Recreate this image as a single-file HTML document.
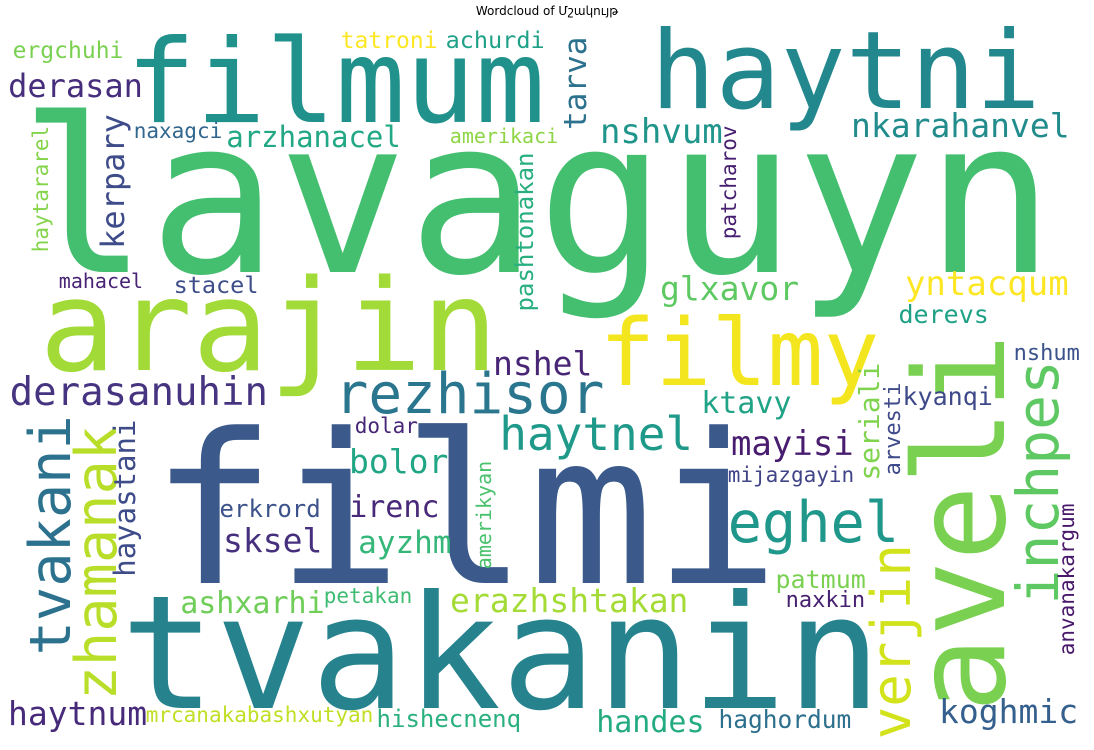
<!DOCTYPE html>
<html><head><meta charset="utf-8"><style>
html,body{margin:0;padding:0;background:#fff;width:1094px;height:750px;overflow:hidden}
svg{display:block}
.w{font-family:"DejaVu Sans Mono","Liberation Mono",monospace}
</style></head><body>
<svg id="cloud" width="1094" height="750" xmlns="http://www.w3.org/2000/svg">
<rect x="0" y="0" width="1094" height="750" fill="#fff"/>
<text x="547" y="15" text-anchor="middle" font-family="'DejaVu Sans','Liberation Sans',sans-serif" font-size="12" fill="#000">Wordcloud of Մշակույթ</text>
<g id="words"></g>
</svg>
<script>
// words, anchor positions, font sizes, colors, rotation
const words = ["lavaguyn","filmum","haytni","arajin","filmi","tvakanin","aveli","filmy","rezhisor","derasanuhin","eghel","haytnel","inchpes","verjin","zhamanak","tvakani","hayastani","kerpary","haytararel","pashtonakan","ergchuhi","derasan","tatroni","achurdi","naxagci","arzhanacel","amerikaci","mahacel","stacel","nshvum","nkarahanvel","tarva","patcharov","glxavor","yntacqum","derevs","nshum","nshel","ktavy","mayisi","kyanqi","mijazgayin","seriali","arvesti","patmum","naxkin","koghmic","anvanakargum","handes","haghordum","erazhshtakan","petakan","hishecnenq","mrcanakabashxutyan","haytnum","ashxarhi","erkrord","sksel","irenc","ayzhm","bolor","dolar","amerikyan"];
const sizes = [215,116,108,127,209,158,126,93,56,39,57,46,58,54,57,57,29,32,21,24,23,32,23,23.5,21,29,20,20,23.5,34,33,31,21,33,34,25,22,33,30,34,25,21,28,22,25,22,33,21,30,24.5,33,21,24,21,33,30,24,33,30,31,33,21,20];
const posX = [32,133,657,47,163,130,1004,605,338,12,731,502,1058,910,116,70,135,124,48,533,14,10,342,447,135,228,451,60,175,602,853,586,736,662,907,900,1015,495,703,733,904,729,879,900,777,787,941,1074,598,720,452,325,378,147,10,182,221,225,351,360,351,356,491];
const posY = [272,122,108,370,583,708,705,385,413,405,542,450,601,736,697,652,575,247,251,310,58,97,48,48,138,147,143,288,293,143,137,128,238,300,295,323,360,375,413,455,405,482,479,474,588,607,723,654,732,728,612,603,727,722,725,613,517,552,517,553,473,433,568];
const rotated = [0,0,0,0,0,0,1,0,0,0,0,0,1,1,1,1,1,1,1,1,0,0,0,0,0,0,0,0,0,0,0,1,1,0,0,0,0,0,0,0,0,0,1,1,0,0,0,1,0,0,0,0,0,0,0,0,0,0,0,0,0,0,1];
const colors = ["#44bf70","#21918c","#23888e","#a2da37","#3b5a8b","#26838e","#7ad151","#f4e61e","#2a768e","#463480","#1f978b","#1f9a8a","#5ec962","#d2e21b","#b8de29","#2c728e","#3e4c8a","#3e4c8a","#84d44b","#29af7f","#7ad151","#472e7c","#fde725","#1fa187","#31668e","#22a884","#8ed645","#482475","#3d4e8a","#1f958b","#228c8d","#2c728e","#481f70","#5ec962","#fde725","#1fa187","#3b528b","#482575","#20a386","#481c6e","#3e4989","#414487","#7fd34e","#3e4a89","#7ad151","#482071","#35608d","#48186a","#25ab82","#2d708e","#a5db36","#3fbc73","#2ab07f","#c0df25","#472a7a","#6ece58","#3b528b","#46307e","#482878","#35b779","#21a685","#482677","#4ac16d"];

const g = document.getElementById('words');
const NS = 'http://www.w3.org/2000/svg';
for (let i = 0; i < words.length; i++) {
  const t = document.createElementNS(NS, 'text');
  const fs = sizes[i];
  const bearing = 0.06 * fs;
  let x, y;
  if (rotated[i]) {
    x = posX[i];
    y = posY[i] + bearing;
    t.setAttribute('transform', 'rotate(-90 ' + x + ' ' + y + ')');
  } else {
    x = posX[i] - bearing;
    y = posY[i];
  }
  t.setAttribute('x', x);
  t.setAttribute('y', y);
  t.setAttribute('class', 'w');
  t.setAttribute('font-size', fs);
  t.setAttribute('fill', colors[i]);
  t.textContent = words[i];
  
  
  g.appendChild(t);
}
</script>
</body></html>
